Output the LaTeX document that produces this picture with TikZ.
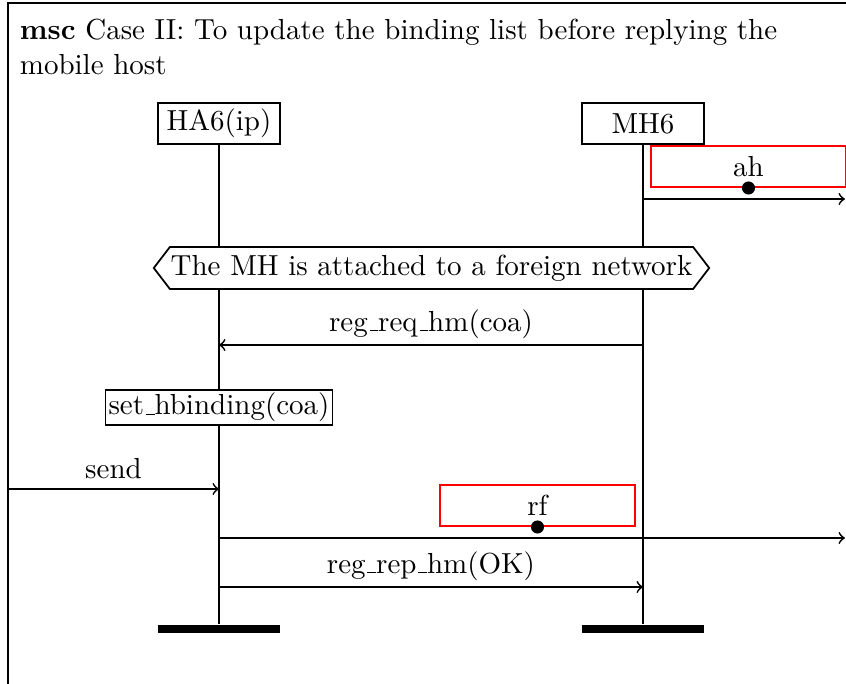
\documentclass[tikz,border=0pt]{standalone}
\usetikzlibrary{arrows}
\newcommand\usc{\leavevmode\kern.06em\vbox{\hrule width.3em}}
\tikzset{
  inst/.style={draw, minimum width=1.479cm, minimum height=0.497cm, inner sep=0pt},
  instend/.style={fill=black, minimum width=1.479cm, minimum height=0.097cm, inner sep=0pt},
  action/.style={draw, fill=white, inner sep=1pt},
  timer/.style={draw=red, minimum width=2.363cm, minimum height=0.5cm, inner sep=0pt},
  blob/.style={circle, fill=black, inner sep=0pt, minimum size=4.5pt},
  msg/.style={->}
}
\begin{document}
\begin{tikzpicture}[x=0.01212cm,y=-0.01212cm,line width=0.6pt]
\useasboundingbox (0,0) rectangle (846,684);
% frame and title
\draw (846,3) -- (8,3) -- (8,684);
\node[anchor=north west, inner sep=0pt, align=left] (title) at (19,18)
  {\textbf{msc} Case II: To update the binding list before replying the\\mobile host};
% instances
\node[inst] (ha6) at (219,123.5) {HA6(ip)};
\node[inst] (mh6) at (643,123.5) {MH6};
\node[instend] (ha6end) at (219,629) {};
\node[instend] (mh6end) at (643,629) {};
\draw (ha6) -- (ha6end);
\draw (mh6) -- (mh6end);
% message ends
\coordinate (ahfrom) at (643,199);
\coordinate (ahto) at (845,199);
\coordinate (reqfrom) at (643,345);
\coordinate (reqto) at (219,345);
\coordinate (sendfrom) at (8,489);
\coordinate (sendto) at (219,489);
\coordinate (rffrom) at (219,538);
\coordinate (rfto) at (845,538);
\coordinate (repfrom) at (219,587);
\coordinate (repto) at (643,587);
% ah
\node[timer] (ahbox) at (748.5,166.5) {ah};
\node[blob] (ahdot) at (ahbox.south) {};
\draw[msg] (ahfrom) -- (ahto);
% condition
\node[fill=white, inner sep=0pt, minimum height=0.485cm] (cond) at (431.5,268)
  {The MH is attached to a foreign network};
\draw ([xshift=-0.194cm]cond.west) -- (cond.north west) -- (cond.north east)
  -- ([xshift=0.194cm]cond.east) -- (cond.south east) -- (cond.south west) -- cycle;
\draw[msg] (reqfrom) -- node[above, inner sep=2pt] (reqlbl) {reg\usc req\usc hm(coa)} (reqto);
\node[action] (setb) at (219,407.5) {set\usc hbinding(coa)};
\draw[msg] (sendfrom) -- node[above] (sendlbl) {send} (sendto);
% rf
\node[timer] (rfbox) at (537.5,505.5) {rf};
\node[blob] (rfdot) at (rfbox.south) {};
\draw[msg] (rffrom) -- (rfto);
\draw[msg] (repfrom) -- node[above, inner sep=2pt] (replbl) {reg\usc rep\usc hm(OK)} (repto);
\end{tikzpicture}
\end{document}
